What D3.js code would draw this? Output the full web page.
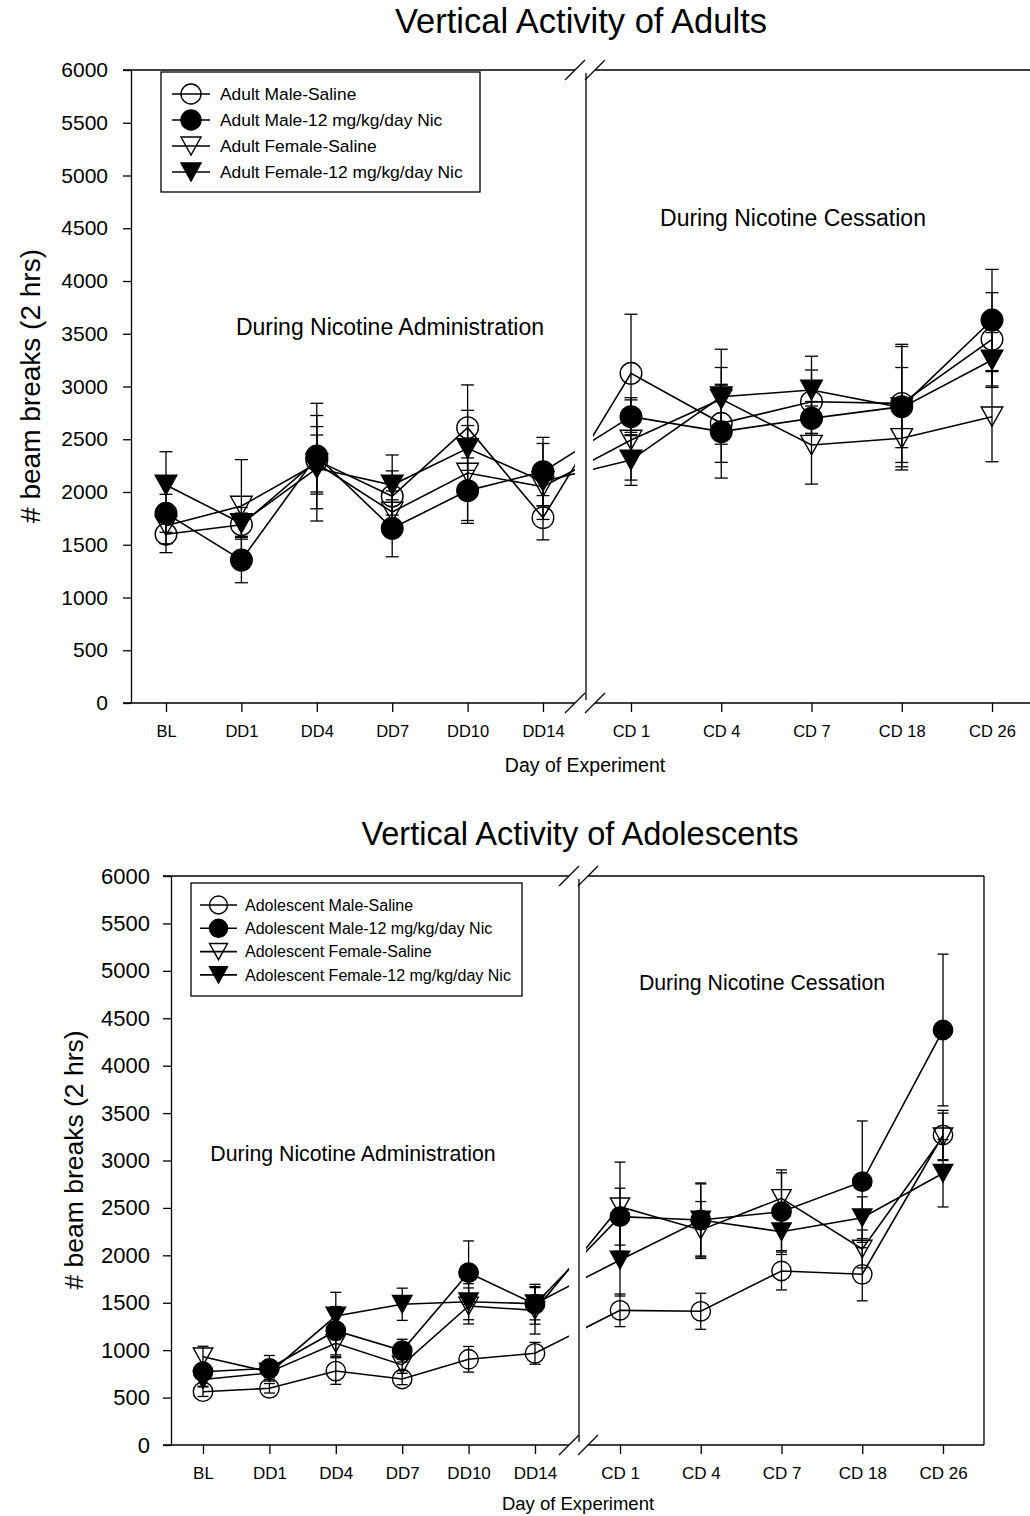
<!DOCTYPE html>
<html>
<head>
<meta charset="utf-8">
<script src="https://cdn.jsdelivr.net/npm/d3@7"></script>
<style>
body { margin: 0; background: #fff; }
svg { display: block; }
text { font-family: "Liberation Sans", Arial, sans-serif; fill: #000; }
</style>
</head>
<body>
<svg id="chart" width="1030" height="1516"></svg>
<script>
// categories
const adminDays = ['BL', 'DD1', 'DD4', 'DD7', 'DD10', 'DD14'];
const cessDays = ['CD 1', 'CD 4', 'CD 7', 'CD 18', 'CD 26'];
const yTicks = d3.range(0, 6001, 500);

// adults: means and SE, BL..DD14 then CD 1..CD 26
const adultMaleSaline = [1600, 1690, 2300, 1960, 2610, 1756, 3125, 2651, 2856, 2840, 3447];
const adultMaleSalineSE = [175, 110, 320, 240, 405, 210, 560, 370, 300, 560, 442];
const adultMaleNic = [1798, 1355, 2341, 1656, 2013, 2193, 2714, 2572, 2698, 2809, 3630];
const adultMaleNicSE = [180, 215, 500, 270, 310, 325, 180, 440, 160, 570, 480];
const adultFemaleSaline = [1680, 1867, 2270, 1810, 2180, 2050, 2493, 2880, 2445, 2509, 2714];
const adultFemaleSalineSE = [170, 440, 270, 200, 450, 180, 380, 300, 370, 300, 427];
const adultFemaleNic = [2066, 1703, 2225, 2066, 2414, 2100, 2303, 2903, 2967, 2800, 3251];
const adultFemaleNicSE = [316, 150, 500, 285, 360, 360, 240, 450, 320, 380, 260];

// adolescents
const adolMaleSaline = [562, 598, 780, 696, 904, 967, 1420, 1410, 1835, 1800, 3269];
const adolMaleSalineSE = [50, 50, 140, 60, 135, 115, 172, 190, 200, 280, 260];
const adolMaleNic = [773, 809, 1205, 995, 1817, 1484, 2408, 2373, 2460, 2777, 4376];
const adolMaleNicSE = [80, 135, 255, 120, 335, 210, 300, 390, 410, 640, 800];
const adolFemaleSaline = [931, 770, 1072, 844, 1466, 1420, 2513, 2267, 2601, 2067, 3250];
const adolFemaleSalineSE = [110, 60, 140, 60, 190, 250, 470, 300, 300, 200, 250];
const adolFemaleNic = [690, 760, 1360, 1484, 1511, 1490, 1951, 2373, 2249, 2397, 2865];
const adolFemaleNicSE = [70, 70, 250, 170, 190, 170, 380, 380, 240, 220, 355];

const adultNames = ['Adult Male-Saline', 'Adult Male-12 mg/kg/day Nic', 'Adult Female-Saline', 'Adult Female-12 mg/kg/day Nic'];
const adolNames = ['Adolescent Male-Saline', 'Adolescent Male-12 mg/kg/day Nic', 'Adolescent Female-Saline', 'Adolescent Female-12 mg/kg/day Nic'];

const kinds = ['circle-open', 'circle', 'tri-open', 'tri'];
const days = adminDays.concat(cessDays);
const svg = d3.select('#chart');

const triPath = (w, h) => `M${-w / 2},${-h / 2}L${w / 2},${-h / 2}L0,${h / 2}Z`;

function addMarker(sel, kind, r) {
    let m;
    if (kind.startsWith('circle')) {
        m = sel.append('circle').attr('r', r);
    } else {
        m = sel.append('path').attr('d', triPath(r * 2, r * 1.8));
    }
    m.attr('fill', kind.endsWith('open') ? 'none' : '#000')
        .attr('stroke', '#000')
        .attr('stroke-width', 1.4);
}

function drawChart(c, series, id) {
    const g = svg.append('g');
    const y = d3.scaleLinear().domain([0, 6000]).range([c.bottom, c.top]);
    const xA = d3.scalePoint().domain(adminDays).range(c.admin);
    const xC = d3.scalePoint().domain(cessDays).range(c.cess);
    const x = d => adminDays.includes(d) ? xA(d) : xC(d);

    // title
    g.append('text').attr('x', c.titleX).attr('y', c.titleY)
        .attr('text-anchor', 'middle').attr('font-size', c.titleFont).text(c.title);

    // y axis
    const ya = g.append('g').attr('transform', `translate(${c.axisX},0)`)
        .call(d3.axisLeft(y).tickValues(yTicks).tickFormat(d3.format('d'))
            .tickSize(8).tickSizeOuter(0).tickPadding(c.tickPad));
    ya.selectAll('path,line').attr('stroke', '#000').attr('stroke-width', 1.3);
    ya.selectAll('text').attr('font-size', c.tickFont).attr('font-family', null);

    // x axes (two groups either side of the break)
    [xA, xC].forEach(sc => {
        const xa = g.append('g').attr('transform', `translate(0,${c.bottom})`)
            .call(d3.axisBottom(sc).tickSize(9).tickSizeOuter(0).tickPadding(13));
        xa.select('.domain').remove();
        xa.selectAll('line').attr('stroke', '#000').attr('stroke-width', 1.3);
        xa.selectAll('text').attr('font-size', c.xFont).attr('font-family', null);
    });

    // frame lines with the break
    const frame = g.append('g').attr('stroke', '#000').attr('stroke-width', 1.3).attr('fill', 'none');
    [c.top, c.bottom].forEach(yy => {
        frame.append('line').attr('x1', c.axisX - 8).attr('x2', c.gapL).attr('y1', yy).attr('y2', yy);
        frame.append('line').attr('x1', c.gapR).attr('x2', c.right).attr('y1', yy).attr('y2', yy);
        [c.gapL, c.gapR].forEach(gx => {
            frame.append('line').attr('x1', gx - 10).attr('x2', gx + 10)
                .attr('y1', yy + 10).attr('y2', yy - 10);
        });
    });
    frame.append('line').attr('x1', c.div).attr('x2', c.div).attr('y1', c.top + 3).attr('y2', c.bottom - 3);
    frame.append('line').attr('x1', c.right).attr('x2', c.right).attr('y1', c.top).attr('y2', c.bottom);

    // clip paths so lines break across the gap
    const defs = g.append('defs');
    defs.append('clipPath').attr('id', id + 'L').append('rect')
        .attr('x', c.axisX).attr('y', c.top - 50).attr('width', c.gapL - c.axisX).attr('height', c.bottom - c.top + 100);
    defs.append('clipPath').attr('id', id + 'R').append('rect')
        .attr('x', c.gapR - 2).attr('y', c.top - 50).attr('width', c.right - c.gapR + 2).attr('height', c.bottom - c.top + 100);

    const line = d3.line().x(d => x(d.day)).y(d => y(d.v));
    const pts = s => s.values.map((v, i) => ({ day: days[i], v, se: s.se[i] }));

    ['L', 'R'].forEach(side => {
        g.append('g').attr('clip-path', `url(#${id}${side})`)
            .selectAll('path').data(series).join('path')
            .attr('d', s => line(pts(s)))
            .attr('fill', 'none').attr('stroke', '#000').attr('stroke-width', 1.6);
    });

    // error bars
    const eb = g.append('g').attr('stroke', '#000').attr('stroke-width', 1.3);
    series.forEach(s => {
        pts(s).forEach(p => {
            const px = x(p.day), y1 = y(p.v + p.se), y0 = y(p.v - p.se);
            eb.append('line').attr('x1', px).attr('x2', px).attr('y1', y1).attr('y2', y0);
            [y1, y0].forEach(yy => eb.append('line')
                .attr('x1', px - c.cap).attr('x2', px + c.cap).attr('y1', yy).attr('y2', yy));
        });
    });

    // markers
    series.forEach(s => {
        pts(s).forEach(p => {
            const m = g.append('g').attr('transform', `translate(${x(p.day)},${y(p.v)})`);
            addMarker(m, s.kind, c.r);
        });
    });

    // notes
    c.notes.forEach(n => g.append('text').attr('x', n.x).attr('y', n.y)
        .attr('text-anchor', 'middle').attr('font-size', c.noteFont).text(n.t));

    // axis titles
    g.append('text').attr('x', c.xLabelX).attr('y', c.xLabelY).attr('text-anchor', 'middle')
        .attr('font-size', c.xLabelFont).text('Day of Experiment');
    g.append('text').attr('transform', `translate(${c.yLabelX},${c.yLabelY}) rotate(-90)`)
        .attr('text-anchor', 'middle').attr('font-size', c.yLabelFont).text('# beam breaks (2 hrs)');

    // legend
    const L = c.legend;
    g.append('rect').attr('x', L.x0).attr('y', L.y0).attr('width', L.x1 - L.x0).attr('height', L.y1 - L.y0)
        .attr('fill', '#fff').attr('stroke', '#000').attr('stroke-width', 1.3);
    series.forEach((s, i) => {
        const ry = L.row0 + i * L.step;
        g.append('line').attr('x1', L.sx0).attr('x2', L.sx1).attr('y1', ry).attr('y2', ry)
            .attr('stroke', '#000').attr('stroke-width', 1.6);
        addMarker(g.append('g').attr('transform', `translate(${(L.sx0 + L.sx1) / 2},${ry})`), s.kind, L.r);
        g.append('text').attr('x', L.tx).attr('y', ry).attr('dy', '0.35em')
            .attr('font-size', L.font).text(s.name);
    });
}

const adultSeries = [
    { values: adultMaleSaline, se: adultMaleSalineSE },
    { values: adultMaleNic, se: adultMaleNicSE },
    { values: adultFemaleSaline, se: adultFemaleSalineSE },
    { values: adultFemaleNic, se: adultFemaleNicSE }
].map((s, i) => ({ ...s, name: adultNames[i], kind: kinds[i] }));

const adolSeries = [
    { values: adolMaleSaline, se: adolMaleSalineSE },
    { values: adolMaleNic, se: adolMaleNicSE },
    { values: adolFemaleSaline, se: adolFemaleSalineSE },
    { values: adolFemaleNic, se: adolFemaleNicSE }
].map((s, i) => ({ ...s, name: adolNames[i], kind: kinds[i] }));

drawChart({
    title: 'Vertical Activity of Adults', titleX: 581, titleY: 33, titleFont: 34.5,
    top: 70, bottom: 703, axisX: 131, right: 1045,
    gapL: 575, gapR: 595, div: 586,
    admin: [166, 543], cess: [631, 992],
    tickFont: 21, tickPad: 15, xFont: 16.5, r: 10.8, cap: 6.5,
    xLabelX: 585, xLabelY: 772, xLabelFont: 19.5,
    yLabelX: 40, yLabelY: 386, yLabelFont: 28,
    noteFont: 23,
    notes: [
        { t: 'During Nicotine Administration', x: 390, y: 335 },
        { t: 'During Nicotine Cessation', x: 793, y: 226 }
    ],
    legend: { x0: 161, y0: 72, x1: 480, y1: 192, sx0: 172, sx1: 210, tx: 220, row0: 94, step: 26, font: 17.4, r: 10 }
}, adultSeries, 'clipA');

drawChart({
    title: 'Vertical Activity of Adolescents', titleX: 580, titleY: 845, titleFont: 32.5,
    top: 876, bottom: 1445, axisX: 171, right: 984,
    gapL: 569, gapR: 588, div: 579,
    admin: [203, 535], cess: [620, 943],
    tickFont: 22, tickPad: 13, xFont: 17, r: 9.7, cap: 5.5,
    xLabelX: 578, xLabelY: 1510, xLabelFont: 18.5,
    yLabelX: 83, yLabelY: 1160, yLabelFont: 26.5,
    noteFont: 21.3,
    notes: [
        { t: 'During Nicotine Administration', x: 353, y: 1161 },
        { t: 'During Nicotine Cessation', x: 762, y: 990 }
    ],
    legend: { x0: 191, y0: 883, x1: 522, y1: 996, sx0: 200, sx1: 237, tx: 245, row0: 905, step: 23.3, font: 16, r: 9 }
}, adolSeries, 'clipB');
</script>
</body>
</html>
